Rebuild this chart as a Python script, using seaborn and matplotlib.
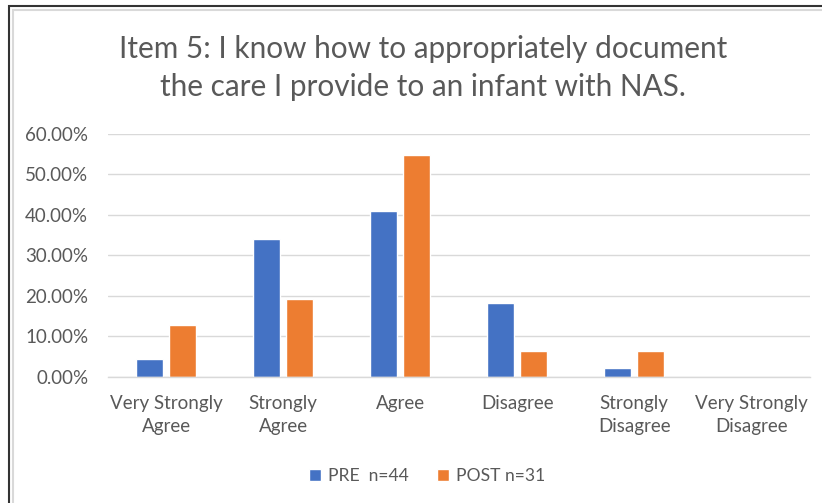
import matplotlib
matplotlib.use("Agg")
import matplotlib.pyplot as plt
import seaborn as sns
import pandas as pd
from matplotlib.ticker import PercentFormatter
from matplotlib.patches import Rectangle

categories = ["Very Strongly\nAgree", "Strongly\nAgree", "Agree", "Disagree",
              "Strongly\nDisagree", "Very Strongly\nDisagree"]
series_names = ["PRE  n=44", "POST n=31"]
pre_values = [4.55, 34.09, 40.91, 18.18, 2.27, 0.0]
post_values = [12.90, 19.35, 54.84, 6.45, 6.45, 0.0]
y_ticks = [0, 10, 20, 30, 40, 50, 60]
title = "Item 5: I know how to appropriately document\nthe care I provide to an infant with NAS."

df = pd.DataFrame({
    "category": categories * 2,
    "series": [series_names[0]] * len(categories) + [series_names[1]] * len(categories),
    "value": pre_values + post_values,
})

sns.set_theme(style="white")
plt.rcParams["font.family"] = ["Lato", "DejaVu Sans"]
text_color = "#595959"

fig = plt.figure(figsize=(8.22, 5.03), dpi=100)
ax = fig.add_axes([0.131, 0.2505, 0.854, 0.4831])

sns.barplot(data=df, x="category", y="value", hue="series", order=categories,
            hue_order=series_names, palette=["#4472C4", "#ED7D31"],
            width=0.564, gap=0.18, ax=ax, legend=True, saturation=1)

ax.set_ylim(0, 60)
ax.set_yticks(y_ticks)
ax.yaxis.set_major_formatter(PercentFormatter(decimals=2))
ax.set_xlim(-0.5, len(categories) - 0.5)
ax.yaxis.grid(True, color="#D9D9D9", linewidth=1)
ax.set_axisbelow(True)
for s in ["top", "right", "left"]:
    ax.spines[s].set_visible(False)
ax.spines["bottom"].set_color("#D9D9D9")
ax.spines["bottom"].set_linewidth(1)
ax.set_xlabel("")
ax.set_ylabel("")
ax.tick_params(axis="y", length=0, colors=text_color, labelsize=13.5, pad=14)
ax.tick_params(axis="x", length=0, colors=text_color, labelsize=13.5, pad=13)
for lbl in ax.get_xticklabels():
    lbl.set_linespacing(1.45)

fig.text(423 / 822, 1 - 68 / 503, title, ha="center", va="center",
         fontsize=21.4, color=text_color, linespacing=1.45)

handles, labels = ax.get_legend_handles_labels()
ax.legend(handles, labels, loc="center", bbox_to_anchor=(0.455, -0.407),
          ncol=2, frameon=False, fontsize=12.6, labelcolor=text_color,
          handlelength=0.7, handleheight=0.7, handletextpad=0.4, columnspacing=1.6)

# chart border
fig.patches.append(Rectangle((9 / 822, -0.1), 1.2, 1.1 - 6 / 503, transform=fig.transFigure,
                             fill=False, edgecolor="#333333", linewidth=1.5))
fig.patches.append(Rectangle((12.5 / 822, -0.1), 1.2, 1.1 - 10 / 503, transform=fig.transFigure,
                             fill=False, edgecolor="#D9D9D9", linewidth=1.5))

fig.savefig("out.png", dpi=100)
